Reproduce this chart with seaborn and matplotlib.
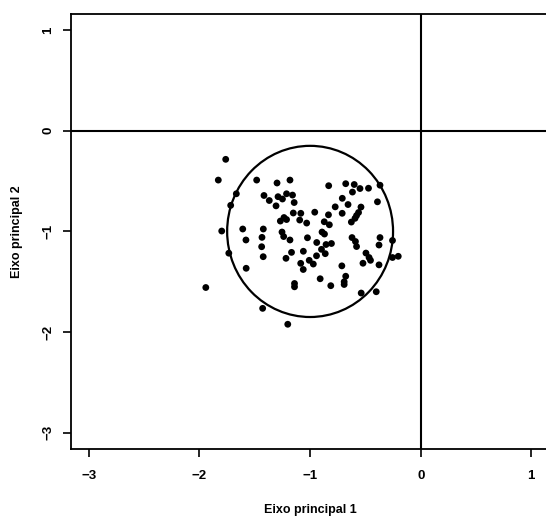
import numpy as np
import pandas as pd
import matplotlib
matplotlib.use("Agg")
import matplotlib.pyplot as plt
from matplotlib.patches import Ellipse
import seaborn as sns

# Scores on the first two principal axes
eixo1 = [-1.763, -1.830, -1.483, -1.299, -1.182, -1.667, -1.718, -1.417, -1.369, -1.290,
         -1.250, -1.213, -1.159, -1.144, -1.308, -0.832, -0.678, -0.601, -0.549, -0.472,
         -0.368, -0.617, -0.709, -0.391, -0.657, -0.773, -0.540, -0.710, -0.562, -0.580,
         -0.594, -0.627, -1.152, -1.084, -0.958, -0.834, -1.236, -1.269, -1.213, -1.094,
         -1.031, -0.872, -0.826, -1.799, -1.609, -1.423, -1.580, -1.435, -1.254, -1.239,
         -1.182, -1.024, -0.892, -0.870, -0.940, -0.856, -0.807, -0.621, -0.590, -0.580,
         -0.368, -0.377, -0.255, -1.438, -1.735, -1.424, -1.218, -1.168, -1.061, -0.942,
         -0.897, -0.863, -1.008, -0.971, -1.085, -1.062, -0.495, -0.467, -0.454, -0.522,
         -0.377, -0.255, -0.203, -0.713, -0.678, -0.692, -0.692, -0.909, -0.813, -1.578,
         -1.141, -1.141, -1.943, -0.538, -0.402, -1.429, -1.202]
eixo2 = [-0.284, -0.490, -0.490, -0.519, -0.490, -0.626, -0.741, -0.643, -0.693, -0.655,
         -0.678, -0.626, -0.639, -0.713, -0.746, -0.546, -0.526, -0.534, -0.574, -0.571,
         -0.541, -0.609, -0.671, -0.706, -0.733, -0.756, -0.758, -0.820, -0.812, -0.842,
         -0.870, -0.907, -0.817, -0.820, -0.809, -0.835, -0.862, -0.897, -0.882, -0.887,
         -0.917, -0.904, -0.934, -0.996, -0.976, -0.976, -1.085, -1.059, -1.006, -1.051,
         -1.085, -1.063, -1.006, -1.026, -1.110, -1.130, -1.120, -1.061, -1.100, -1.150,
         -1.061, -1.135, -1.090, -1.152, -1.216, -1.251, -1.267, -1.208, -1.197, -1.242,
         -1.178, -1.221, -1.287, -1.324, -1.317, -1.378, -1.215, -1.259, -1.287, -1.316,
         -1.332, -1.259, -1.247, -1.342, -1.445, -1.500, -1.527, -1.470, -1.539, -1.366,
         -1.517, -1.550, -1.557, -1.612, -1.599, -1.764, -1.922]

# Reference region around the centre of the cloud
centro = (-1.0, -1.0)
raio_1 = 0.75
raio_2 = 0.85

ticks = [-3, -2, -1, 0, 1]
limites = (-3.16, 1.16)

df = pd.DataFrame({"Eixo principal 1": eixo1, "Eixo principal 2": eixo2})

sns.set_theme(style="ticks")
plt.rcParams["font.family"] = ["Liberation Sans", "DejaVu Sans"]
plt.rcParams["font.weight"] = "bold"
plt.rcParams["text.color"] = "black"
plt.rcParams["axes.labelcolor"] = "black"

fig = plt.figure(figsize=(5.46, 5.20), dpi=100)
ax = fig.add_axes([0.1304, 0.1367, 0.8751, 0.8365])

sns.scatterplot(data=df, x="Eixo principal 1", y="Eixo principal 2", ax=ax,
                color="black", s=24, edgecolor="none", linewidth=0, zorder=3)

ax.axhline(0, color="black", lw=1.5, zorder=2)
ax.axvline(0, color="black", lw=1.5, zorder=2)
ax.add_patch(Ellipse(centro, 2 * raio_1, 2 * raio_2, fill=False,
                     edgecolor="black", lw=1.6, zorder=2))

ax.set_xlim(*limites)
ax.set_ylim(*limites)
ax.set_xticks(ticks)
ax.set_yticks(ticks)
ax.set_xticklabels([f"{t}".replace("-", "\u2212") for t in ticks])
ax.set_yticklabels([f"{t}".replace("-", "\u2212") for t in ticks])
ax.tick_params(axis="both", direction="out", length=6, width=1.2,
               labelsize=9.5, color="black", labelcolor="black")
ax.tick_params(axis="x", pad=9)
ax.tick_params(axis="y", pad=6)
for lbl in ax.get_yticklabels():
    lbl.set_rotation(90)
    lbl.set_va("center")
    lbl.set_weight("bold")
for lbl in ax.get_xticklabels():
    lbl.set_weight("bold")

for sp in ax.spines.values():
    sp.set_color("black")
    sp.set_linewidth(1.3)

ax.set_xlabel("Eixo principal 1", fontsize=9, fontweight="bold", labelpad=16, color="black")
ax.set_ylabel("Eixo principal 2", fontsize=9, fontweight="bold", labelpad=14, color="black")

fig.savefig("out.png", dpi=100, facecolor="white")
